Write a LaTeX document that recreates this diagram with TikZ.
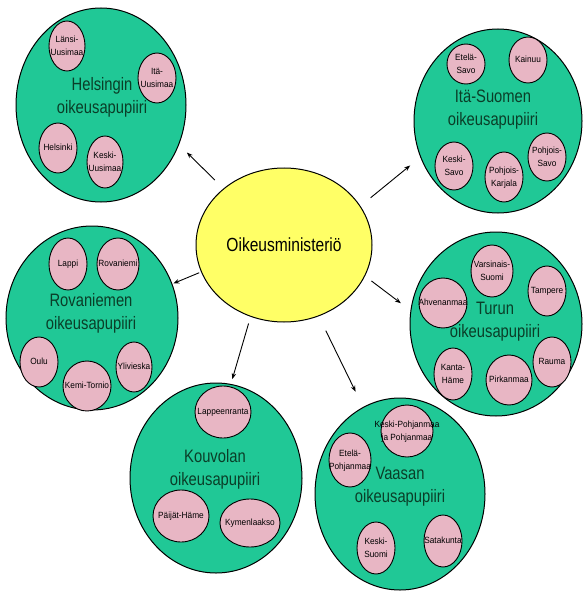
\documentclass[tikz,border=0pt]{standalone}
\usepackage{fontspec}
\usepackage{tikz}
\usetikzlibrary{arrows.meta, shapes.geometric, positioning}
\setmainfont{Liberation Sans}
\newfontfamily\otsikkofamily[FakeStretch=0.82]{Liberation Sans}
\newfontfamily\kuntafamily[FakeStretch=0.92]{Liberation Sans}
\newcommand\otsikkofont{\otsikkofamily\fontsize{18}{23}\selectfont}
\newcommand\kuntafont{\kuntafamily\fontsize{9}{13}\selectfont}
\newcommand\knimi[1]{\makebox[0pt]{\begin{tabular}{@{}c@{}}#1\end{tabular}}}
\definecolor{piirigreen}   {RGB}{ 32, 200, 150}
\definecolor{kuntapink}    {RGB}{232, 182, 196}
\definecolor{ministyellow} {RGB}{255, 255, 102}
\definecolor{otsikkogreen} {RGB}{ 10,  62,  40}
\tikzset{
	piiri/.style={ellipse, draw=black, line width=1pt, fill=piirigreen, inner sep=0pt},
	kunta/.style={ellipse, draw=black, line width=0.9pt, fill=kuntapink, inner sep=0pt, font=\kuntafont},
	otsikko/.style={align=center, text=otsikkogreen, font=\otsikkofont},
	nuoli/.style={-{Stealth[length=6pt,width=4.5pt]}, line width=0.9pt}
}

\begin{document}
\begin{tikzpicture}[x=1pt,y=-1pt]
	\useasboundingbox (0,0) rectangle (582,596);
	\node[ellipse, draw=black, line width=1pt, fill=ministyellow, minimum width=176pt, minimum height=154pt,
		font=\otsikkofamily\fontsize{19}{23}\selectfont] (min) at (284,245) {Oikeusministeriö};
	% piirit
	\node[piiri, minimum width=170pt, minimum height=194pt] (hel) at (101,105) {};
	\node[piiri, minimum width=168pt, minimum height=184pt] (ita) at (498,121) {};
	\node[piiri, minimum width=172pt, minimum height=184pt] (rov) at (92,318) {};
	\node[piiri, minimum width=172pt, minimum height=184pt] (tur) at (496,324) {};
	\node[piiri, minimum width=172pt, minimum height=190pt] (kou) at (216,478) {};
	\node[piiri, minimum width=170pt, minimum height=192pt] (vaa) at (400,494) {};
	\node[otsikko] (helt) at (102,97) {Helsingin\\oikeusapupiiri};
	\node[otsikko] (itat) at (493,110) {Itä-Suomen\\oikeusapupiiri};
	\node[otsikko] (rovt) at (91,313) {Rovaniemen\\oikeusapupiiri};
	\node[otsikko] (turt) at (495,322) {Turun\\oikeusapupiiri};
	\node[otsikko] (kout) at (215,469) {Kouvolan\\oikeusapupiiri};
	\node[otsikko] (vaat) at (400,487) {Vaasan\\oikeusapupiiri};
	% kunnat
	\node[kunta, minimum width=36pt, minimum height=50pt] (hel1) at (67,46) {\knimi{Länsi-\\Uusimaa}};
	\node[kunta, minimum width=38pt, minimum height=50pt] (hel2) at (157,78) {\knimi{Itä-\\Uusimaa}};
	\node[kunta, minimum width=38pt, minimum height=50pt] (hel3) at (58,148) {\knimi{Helsinki}};
	\node[kunta, minimum width=36pt, minimum height=52pt] (hel4) at (105,162) {\knimi{Keski-\\Uusimaa}};
	\node[kunta, minimum width=38pt, minimum height=40pt] (ita1) at (466,64) {\knimi{Etelä-\\Savo}};
	\node[kunta, minimum width=38pt, minimum height=46pt] (ita2) at (528,60) {\knimi{Kainuu}};
	\node[kunta, minimum width=38pt, minimum height=48pt] (ita3) at (454,166) {\knimi{Keski-\\Savo}};
	\node[kunta, minimum width=38pt, minimum height=50pt] (ita4) at (504,177) {\knimi{Pohjois-\\Karjala}};
	\node[kunta, minimum width=38pt, minimum height=48pt] (ita5) at (547,157) {\knimi{Pohjois-\\Savo}};
	\node[kunta, minimum width=38pt, minimum height=52pt] (rov1) at (68,264) {\knimi{Lappi}};
	\node[kunta, minimum width=42pt, minimum height=52pt] (rov2) at (118,264) {\knimi{Rovaniemi}};
	\node[kunta, minimum width=38pt, minimum height=50pt] (rov3) at (39,362) {\knimi{Oulu}};
	\node[kunta, minimum width=48pt, minimum height=50pt] (rov4) at (87,386) {\knimi{Kemi-Tornio}};
	\node[kunta, minimum width=36pt, minimum height=50pt] (rov5) at (134,367) {\knimi{Ylivieska}};
	\node[kunta, minimum width=42pt, minimum height=52pt] (tur1) at (492,271) {\knimi{Varsinais-\\Suomi}};
	\node[kunta, minimum width=38pt, minimum height=50pt] (tur2) at (547,291) {\knimi{Tampere}};
	\node[kunta, minimum width=48pt, minimum height=50pt] (tur3) at (443,303) {\knimi{Ahvenanmaa}};
	\node[kunta, minimum width=38pt, minimum height=52pt] (tur4) at (453,374) {\knimi{Kanta-\\Häme}};
	\node[kunta, minimum width=46pt, minimum height=50pt] (tur5) at (509,380) {\knimi{Pirkanmaa}};
	\node[kunta, minimum width=38pt, minimum height=50pt] (tur6) at (552,362) {\knimi{Rauma}};
	\node[kunta, minimum width=56pt, minimum height=52pt] (kou1) at (223,412) {\knimi{Lappeenranta}};
	\node[kunta, minimum width=56pt, minimum height=52pt] (kou2) at (181,516) {\knimi{Päijät-Häme}};
	\node[kunta, minimum width=60pt, minimum height=48pt] (kou3) at (250,523) {\knimi{Kymenlaakso}};
	\node[kunta, minimum width=52pt, minimum height=52pt] (vaa1) at (407,431) {\knimi{Keski-Pohjanmaa\\ja Pohjanmaa}};
	\node[kunta, minimum width=42pt, minimum height=54pt] (vaa2) at (350,460) {\knimi{Etelä-\\Pohjanmaa}};
	\node[kunta, minimum width=38pt, minimum height=52pt] (vaa3) at (376,548) {\knimi{Keski-\\Suomi}};
	\node[kunta, minimum width=38pt, minimum height=52pt] (vaa4) at (443,541) {\knimi{Satakunta}};
	% nuolet
	\draw[nuoli, shorten <=12pt, shorten >=11pt] (min.137) -- (hel.-27);
	\draw[nuoli, shorten <=13pt, shorten >=13pt] (min.27) -- (ita.205);
	\draw[nuoli, shorten <=2pt, shorten >=1pt] (min.198) -- (rov.23);
	\draw[nuoli, shorten <=8pt, shorten >=12pt] (min.-21) -- (tur.171);
	\draw[nuoli, shorten <=7pt, shorten >=5pt] (min.245) -- (kou.81);
	\draw[nuoli, shorten <=16pt, shorten >=17pt] (min.-64) -- (vaa.113);
\end{tikzpicture}
\end{document}
